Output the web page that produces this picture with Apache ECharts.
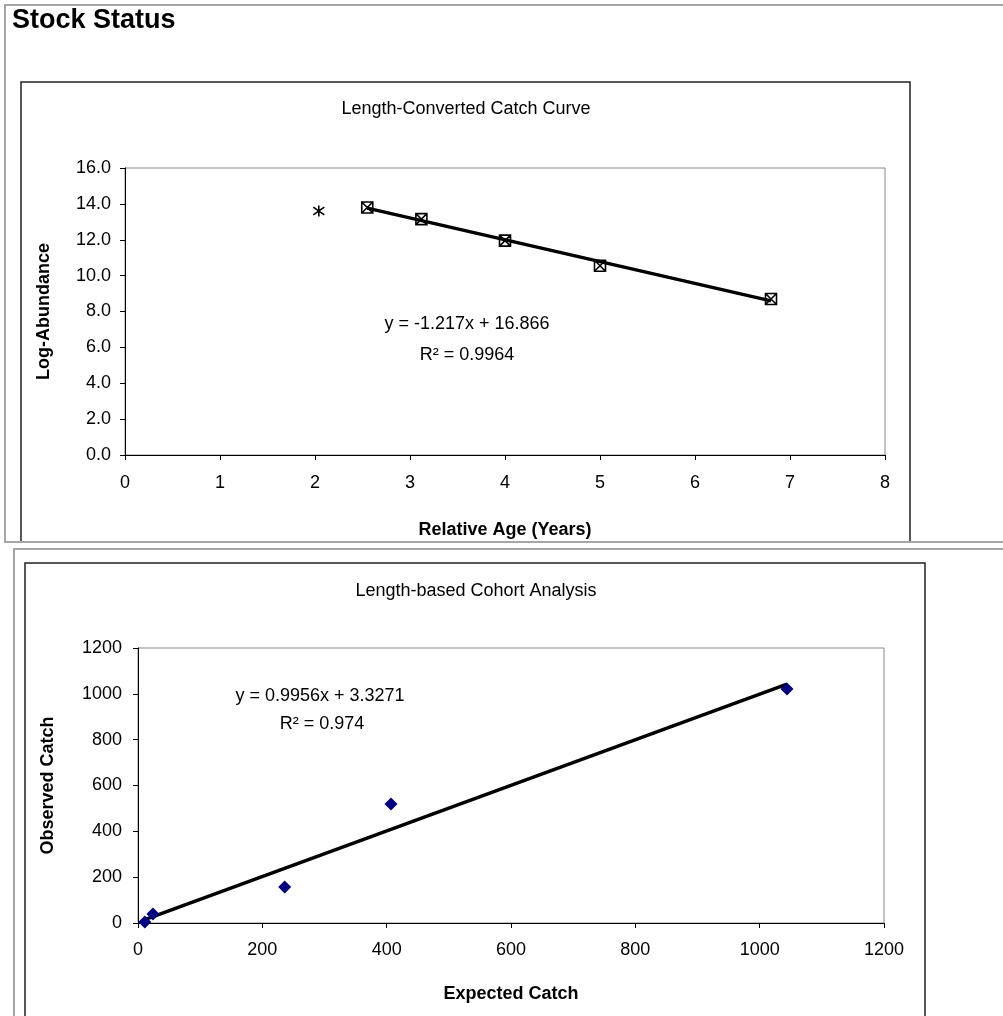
<!DOCTYPE html>
<html>
<head>
<meta charset="utf-8">
<script src="https://cdn.jsdelivr.net/npm/echarts@6/dist/echarts.min.js"></script>
<style>
  html, body { margin: 0; padding: 0; background: #fff; }
  #main { width: 1003px; height: 1016px; }
</style>
</head>
<body>
<div id="main"></div>
<script>
// catch curve data (relative age vs log-abundance)
var starAge = [2.04];
var starLog = [13.6];
var ages = [2.55, 3.12, 4.0, 5.0, 6.8];
var logAbund = [13.8, 13.15, 11.95, 10.55, 8.7];
var fit1 = { slope: -1.217, intercept: 16.866, r2: '0.9964' };

// cohort analysis data (expected vs observed catch)
var expected = [11, 24, 236, 407, 1044];
var observed = [4, 39, 157, 519, 1021];
var fit2 = { slope: 0.9956, intercept: 3.3271, r2: '0.974' };

var font = 'Liberation Sans, Arial, Helvetica, sans-serif';

function pairs(xs, ys) {
  return xs.map(function (x, i) { return [x, ys[i]]; });
}
function trend(xs, fit) {
  var lo = Math.min.apply(null, xs), hi = Math.max.apply(null, xs);
  return [[lo, fit.slope * lo + fit.intercept], [hi, fit.slope * hi + fit.intercept]];
}

var chart = echarts.init(document.getElementById('main'));

// 共用的坐标轴样式
function axisBase(extra, labelMargin, fmt) {
  var a = {
    type: 'value',
    nameLocation: 'middle',
    nameTextStyle: { fontFamily: font, fontWeight: 'bold', fontSize: 18, color: '#000' },
    axisLine: { show: true, onZero: false, lineStyle: { color: '#000', width: 1 } },
    axisTick: { show: true, inside: false, length: 5, lineStyle: { color: '#000' } },
    axisLabel: { fontFamily: font, fontSize: 18, color: '#000', margin: labelMargin,
      formatter: fmt || function (v) { return String(v); } },
    splitLine: { show: false }
  };
  for (var k in extra) a[k] = extra[k];
  return a;
}

var xSquare = 'path://M0,0L10,0L10,10L0,10Z M0,0L10,10 M10,0L0,10';
var asterisk = 'path://M5,0L5,10 M1.5,1.5L8.5,8.5 M1.5,8.5L8.5,1.5';

var option = {
  animation: false,
  backgroundColor: '#fff',
  grid: [
    { left: 125, top: 168, width: 760, height: 287, show: true, borderColor: '#888', borderWidth: 1 },
    { left: 138, top: 648, width: 746, height: 275, show: true, borderColor: '#888', borderWidth: 1 }
  ],
  xAxis: [
    axisBase({ gridIndex: 0, min: 0, max: 8, interval: 1, name: 'Relative Age (Years)', nameGap: 66 }, 19),
    axisBase({ gridIndex: 1, min: 0, max: 1200, interval: 200, name: 'Expected Catch', nameGap: 62 }, 18)
  ],
  yAxis: [
    axisBase({ gridIndex: 0, min: 0, max: 16, interval: 2, name: 'Log-Abundance', nameGap: 72 }, 14,
      function (v) { return v.toFixed(1); }),
    axisBase({ gridIndex: 1, min: 0, max: 1200, interval: 200, name: 'Observed Catch', nameGap: 81 }, 16)
  ],
  series: [
    {
      type: 'line', xAxisIndex: 0, yAxisIndex: 0,
      data: trend(ages, fit1), symbol: 'none',
      lineStyle: { color: '#000', width: 3.5 }, z: 2
    },
    {
      type: 'scatter', xAxisIndex: 0, yAxisIndex: 0,
      data: pairs(starAge, starLog), symbol: asterisk, symbolSize: 11,
      itemStyle: { color: 'rgba(0,0,0,0)', borderColor: '#000', borderWidth: 1.6, opacity: 1 }, z: 3
    },
    {
      type: 'scatter', xAxisIndex: 0, yAxisIndex: 0,
      data: pairs(ages, logAbund), symbol: xSquare, symbolSize: 11,
      itemStyle: { color: 'rgba(0,0,0,0)', borderColor: '#000', borderWidth: 1.6, opacity: 1 }, z: 3
    },
    {
      type: 'line', xAxisIndex: 1, yAxisIndex: 1,
      data: trend(expected, fit2), symbol: 'none',
      lineStyle: { color: '#000', width: 3.5 }, z: 2
    },
    {
      type: 'scatter', xAxisIndex: 1, yAxisIndex: 1,
      data: pairs(expected, observed), symbol: 'diamond', symbolSize: 13,
      itemStyle: { color: '#000080', opacity: 1 }, z: 3
    }
  ],
  graphic: [
    // 外框
    { type: 'rect', z: 1, shape: { x: 21, y: 82, width: 889, height: 460 },
      style: { fill: 'none', stroke: '#222', lineWidth: 1.5 } },
    { type: 'rect', z: 2, shape: { x: 5, y: 5, width: 1100, height: 537 },
      style: { fill: 'none', stroke: '#a6a6a6', lineWidth: 2 } },
    { type: 'rect', z: 1, shape: { x: 25, y: 563, width: 900, height: 500 },
      style: { fill: 'none', stroke: '#222', lineWidth: 1.5 } },
    { type: 'rect', z: 2, shape: { x: 14, y: 549, width: 1100, height: 500 },
      style: { fill: 'none', stroke: '#a6a6a6', lineWidth: 2 } },
    // 文本
    { type: 'text', left: 12, top: 7, z: 5,
      style: { text: 'Stock Status', fontFamily: font, fontWeight: 'bold', fontSize: 27, fill: '#000' } },
    { type: 'text', x: 466, y: 109, z: 5,
      style: { text: 'Length-Converted Catch Curve', fontFamily: font, fontSize: 18, fill: '#000',
        align: 'center', verticalAlign: 'middle' } },
    { type: 'text', x: 467, y: 324, z: 5,
      style: { text: 'y = ' + fit1.slope + 'x + ' + fit1.intercept, fontFamily: font, fontSize: 18, fill: '#000',
        align: 'center', verticalAlign: 'middle' } },
    { type: 'text', x: 467, y: 355, z: 5,
      style: { text: 'R\u00b2 = ' + fit1.r2, fontFamily: font, fontSize: 18, fill: '#000',
        align: 'center', verticalAlign: 'middle' } },
    { type: 'text', x: 476, y: 591, z: 5,
      style: { text: 'Length-based Cohort Analysis', fontFamily: font, fontSize: 18, fill: '#000',
        align: 'center', verticalAlign: 'middle' } },
    { type: 'text', x: 320, y: 696, z: 5,
      style: { text: 'y = ' + fit2.slope + 'x + ' + fit2.intercept, fontFamily: font, fontSize: 18, fill: '#000',
        align: 'center', verticalAlign: 'middle' } },
    { type: 'text', x: 322, y: 724, z: 5,
      style: { text: 'R\u00b2 = ' + fit2.r2, fontFamily: font, fontSize: 18, fill: '#000',
        align: 'center', verticalAlign: 'middle' } }
  ]
};

chart.setOption(option);
</script>
</body>
</html>
